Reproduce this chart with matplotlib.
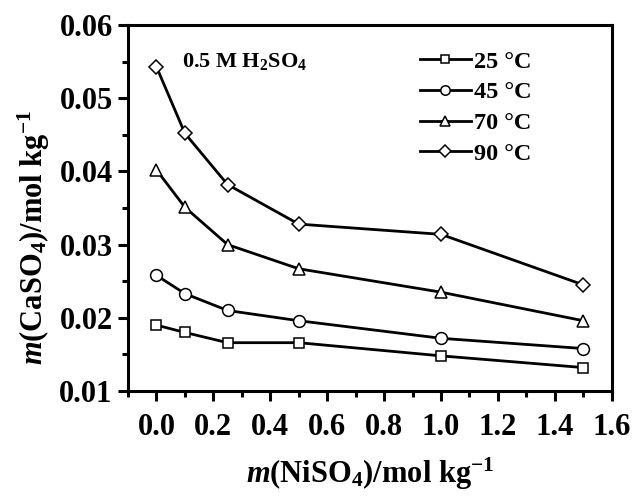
import matplotlib
matplotlib.use("Agg")
import matplotlib.pyplot as plt
from matplotlib.ticker import MultipleLocator

plt.rcParams['font.family'] = 'Liberation Serif'
plt.rcParams['font.weight'] = 'bold'
plt.rcParams['axes.labelweight'] = 'bold'
plt.rcParams['mathtext.fontset'] = 'custom'
plt.rcParams['mathtext.rm'] = 'Liberation Serif:bold'
plt.rcParams['mathtext.it'] = 'Liberation Serif:italic:bold'
plt.rcParams['mathtext.bf'] = 'Liberation Serif:bold'

# NiSO4 molality and CaSO4 solubility at each temperature
m_niso4 = [0.0, 0.1, 0.25, 0.5, 1.0, 1.5]
temps = ['25 °C', '45 °C', '70 °C', '90 °C']
caso4_25 = [0.0190, 0.0180, 0.0166, 0.0166, 0.0148, 0.0132]
caso4_45 = [0.0258, 0.0233, 0.0210, 0.0196, 0.0172, 0.0158]
caso4_70 = [0.0402, 0.0351, 0.0300, 0.0267, 0.0235, 0.0196]
caso4_90 = [0.0543, 0.0452, 0.0382, 0.0328, 0.0314, 0.0245]

series = [caso4_25, caso4_45, caso4_70, caso4_90]
markers = ['s', 'o', '^', 'D']
msizes = [7.5, 8.5, 9, 7.5]

fig = plt.figure(figsize=(6.32, 4.96), dpi=100)
ax = fig.add_axes([0.2025, 0.2117, 0.7655, 0.7379])

for y, mk, ms, lab in zip(series, markers, msizes, temps):
    ax.plot(m_niso4, y, color='black', lw=2.0, marker=mk, ms=ms,
            mfc='white', mec='black', mew=1.1, label=lab)

ax.set_xlim(-0.1, 1.6)
ax.set_ylim(0.01, 0.06)
ax.xaxis.set_minor_locator(MultipleLocator(0.1))
ax.yaxis.set_minor_locator(MultipleLocator(0.005))
ax.set_xticks([0.0, 0.2, 0.4, 0.6, 0.8, 1.0, 1.2, 1.4, 1.6])
ax.set_xticklabels(['0.0', '0.2', '0.4', '0.6', '0.8', '1.0', '1.2', '1.4', '1.6'])
ax.set_yticks([0.01, 0.02, 0.03, 0.04, 0.05, 0.06])
ax.set_yticklabels(['0.01', '0.02', '0.03', '0.04', '0.05', '0.06'])

for s in ax.spines.values():
    s.set_linewidth(2.2)
ax.tick_params(which='major', direction='out', length=7, width=2.2,
               labelsize=22, pad=4, top=False, right=False)
ax.tick_params(which='minor', direction='out', length=4.5, width=2.2,
               top=False, right=False)
ax.tick_params(axis='x', which='major', pad=9)

ax.set_xlabel(r'$m$(NiSO$_4$)/mol kg$^{-1}$', fontsize=22, labelpad=10)
ax.set_ylabel(r'$m$(CaSO$_4$)/mol kg$^{-1}$', fontsize=22)
ax.yaxis.set_label_coords(-0.158, 0.42)

ax.text(0.09, 0.0550, r'0.5 M H$_2$SO$_4$', fontsize=16,
        fontweight='bold', va='center', ha='left')

leg = ax.legend(loc='upper right', bbox_to_anchor=(0.865, 0.97), frameon=False,
                fontsize=17.5, handlelength=2.1, handletextpad=0.15,
                labelspacing=0.36, borderaxespad=0.2, markerscale=0.8)

fig.savefig('out.png', dpi=100)
